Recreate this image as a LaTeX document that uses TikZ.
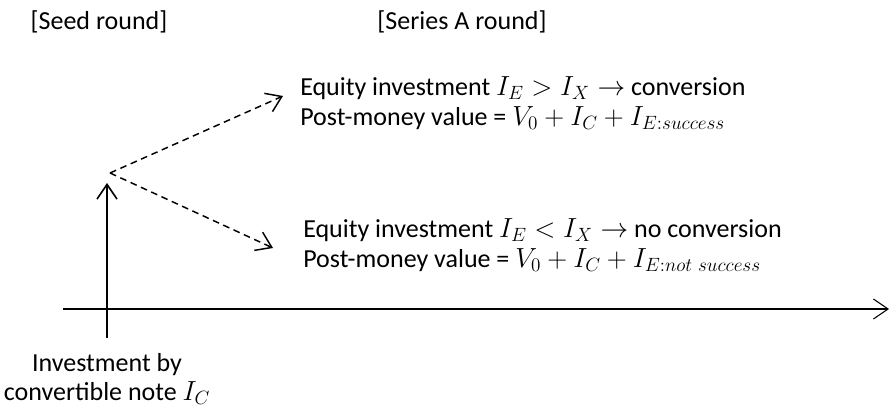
\documentclass[tikz,border=0pt]{standalone}
\usepackage{fontspec}
\setmainfont{Carlito}
\usetikzlibrary{arrows.meta}
\DeclareMathSizes{19.5}{20}{15.5}{12}

\begin{document}
\begin{tikzpicture}[x=0.75pt,y=-0.75pt,
    font=\fontsize{19.5}{21}\selectfont,
    >={Straight Barb[length=11pt,width=15pt]},
    branch/.style={->,line width=1.1pt,dash pattern=on 5pt off 3.5pt},
    txt/.style={inner sep=0pt,align=left,anchor=west}]
    \useasboundingbox (0,0) rectangle (889,417);

    \node[inner sep=0pt] (seed) at (99,22) {[Seed round]};
    \node[inner sep=0pt] (seriesA) at (462,22) {[Series A round]};

    % time axis and seed investment
    \coordinate (axisL) at (63,309);
    \coordinate (axisR) at (889,309);
    \draw[->,line width=0.8pt] (axisL) -- (axisR);
    \coordinate (base) at (107,338);
    \coordinate (split) at (110,173);
    \draw[->,line width=1.2pt] (base) -- (107,183);

    \node[inner sep=0pt,align=center] (note) at (107,379)
        {Investment by\\[1pt]convertible note $I_C$};

    % two outcomes in series A
    \node[txt] (success) at (300,103)
        {Equity investment $I_E > I_X \rightarrow$ conversion\\[1pt]
         Post-money value = $V_0 + I_C + I_{E:success}$};
    \node[txt] (fail) at (303,245)
        {Equity investment $I_E < I_X \rightarrow$ no conversion\\[1pt]
         Post-money value = $V_0 + I_C + I_{E:not\ success}$};

    \coordinate (tipS) at (283,96);
    \coordinate (tipF) at (273,248);
    \draw[branch] (split) -- (tipS);
    \draw[branch] (split) -- (tipF);
\end{tikzpicture}
\end{document}
